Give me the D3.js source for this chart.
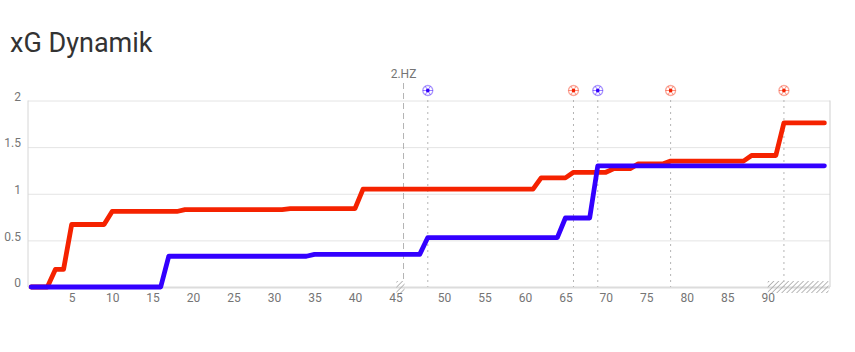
<!DOCTYPE html>
<html>
<head>
<meta charset="utf-8">
<script src="https://cdn.jsdelivr.net/npm/d3@7"></script>
<style>
  body { margin: 0; background: #fff; font-family: Roboto, sans-serif; }
  svg { display: block; }
</style>
</head>
<body>
<div id="grafico"></div>
<script>
// Minutes on the x axis, with the half-time slot and the added time
const minutos = [
  '0','1','2','3','4','5','6','7','8','9','10','11','12','13','14','15','16','17','18','19','20',
  '21','22','23','24','25','26','27','28','29','30','31','32','33','34','35','36','37','38','39','40',
  '41','42','43','44','45','HZ','46','47','48','49','50','51','52','53','54','55','56','57','58','59','60',
  '61','62','63','64','65','66','67','68','69','70','71','72','73','74','75','76','77','78','79','80',
  '81','82','83','84','85','86','87','88','89','90','90+1','90+2','90+3','90+4','90+5','90+6','90+7'
];
const ticksX = ['5','10','15','20','25','30','35','40','45','50','55','60','65','70','75','80','85','90'];
const ticksY = [0, 0.5, 1, 1.5, 2];

// xG per slot, same order as minutos
const xgVermelho = [
  0,0,0,0.19,0.19,0.67,0.67,0.67,0.67,0.67,0.81,0.81,0.81,0.81,0.81,0.81,0.81,0.81,0.81,0.83,0.83,
  0.83,0.83,0.83,0.83,0.83,0.83,0.83,0.83,0.83,0.83,0.83,0.84,0.84,0.84,0.84,0.84,0.84,0.84,0.84,0.84,
  1.05,1.05,1.05,1.05,1.05,1.05,1.05,1.05,1.05,1.05,1.05,1.05,1.05,1.05,1.05,1.05,1.05,1.05,1.05,1.05,1.05,
  1.05,1.17,1.17,1.17,1.17,1.23,1.23,1.23,1.23,1.23,1.27,1.27,1.27,1.32,1.32,1.32,1.32,1.35,1.35,1.35,
  1.35,1.35,1.35,1.35,1.35,1.35,1.35,1.41,1.41,1.41,1.41,1.76,1.76,1.76,1.76,1.76,1.76
];
const xgAzul = [
  0,0,0,0,0,0,0,0,0,0,0,0,0,0,0,0,0,0.33,0.33,0.33,0.33,
  0.33,0.33,0.33,0.33,0.33,0.33,0.33,0.33,0.33,0.33,0.33,0.33,0.33,0.33,0.35,0.35,0.35,0.35,0.35,0.35,
  0.35,0.35,0.35,0.35,0.35,0.35,0.35,0.35,0.53,0.53,0.53,0.53,0.53,0.53,0.53,0.53,0.53,0.53,0.53,0.53,0.53,
  0.53,0.53,0.53,0.53,0.74,0.74,0.74,0.74,1.30,1.30,1.30,1.30,1.30,1.30,1.30,1.30,1.30,1.30,1.30,1.30,
  1.30,1.30,1.30,1.30,1.30,1.30,1.30,1.30,1.30,1.30,1.30,1.30,1.30,1.30,1.30,1.30,1.30
];

const golosMinuto = ['48','66','69','78','90+2'];
const golosEquipa = ['azul','vermelho','azul','vermelho','vermelho'];

const cores = { vermelho: '#f52200', azul: '#3300ff' };

const largura = 855;
const altura = 352;

const svg = d3.select('#grafico').append('svg')
  .attr('width', largura)
  .attr('height', altura);

// Escalas
const x = d3.scalePoint().domain(minutos).range([31.2, 824.4]);
const y = d3.scaleLinear().domain([0, 2]).range([287, 100.5]);

// Hatch pattern for the stoppage-time strips
const defs = svg.append('defs');
const padrao = defs.append('pattern')
  .attr('id', 'riscas')
  .attr('width', 3.5)
  .attr('height', 3.5)
  .attr('patternUnits', 'userSpaceOnUse')
  .attr('patternTransform', 'rotate(45)');
padrao.append('line')
  .attr('x1', 0).attr('y1', 0).attr('x2', 0).attr('y2', 3.5)
  .attr('stroke', '#b0b0b0')
  .attr('stroke-width', 1.8);

svg.append('text')
  .attr('x', 10)
  .attr('y', 52)
  .attr('fill', '#333')
  .style('font-size', '27px')
  .text('xG Dynamik');

// Grid lines and y labels
const eixoY = svg.append('g')
  .attr('transform', 'translate(28,0)')
  .call(d3.axisLeft(y).tickValues(ticksY).tickSize(-802).tickPadding(7).tickFormat(d3.format('')));
eixoY.select('.domain').remove();
eixoY.selectAll('line').attr('stroke', '#e4e4e4').attr('stroke-width', 1);
eixoY.selectAll('.tick').filter((d) => d === 0).select('line').attr('stroke', '#dcdcdc').attr('stroke-width', 2);
eixoY.selectAll('text')
  .attr('dy', '-0.02em')
  .attr('fill', '#757575')
  .style('font-size', '12px')
  .style('font-family', 'Roboto, sans-serif');

// Left and right borders
svg.append('line')
  .attr('x1', 28).attr('x2', 28)
  .attr('y1', y(2)).attr('y2', y(0))
  .attr('stroke', '#d6d6d6');
svg.append('line')
  .attr('x1', 830).attr('x2', 830)
  .attr('y1', y(2)).attr('y2', y(0))
  .attr('stroke', '#cfcfcf');

// X axis labels
const eixoX = svg.append('g')
  .attr('transform', `translate(0,${y(0)})`)
  .call(d3.axisBottom(x).tickValues(ticksX).tickSize(0).tickPadding(6));
eixoX.select('.domain').remove();
eixoX.selectAll('text')
  .attr('fill', '#757575')
  .style('font-size', '12px')
  .style('font-family', 'Roboto, sans-serif');

// Stoppage-time strips
svg.append('rect')
  .attr('x', x('45') + 1)
  .attr('y', 281)
  .attr('width', x('HZ') - x('45'))
  .attr('height', 12)
  .attr('fill', 'url(#riscas)');
svg.append('rect')
  .attr('x', x('90'))
  .attr('y', 281)
  .attr('width', 828.5 - x('90'))
  .attr('height', 12)
  .attr('fill', 'url(#riscas)');

// Half-time marker
svg.append('line')
  .attr('x1', x('HZ')).attr('x2', x('HZ'))
  .attr('y1', 83).attr('y2', 281)
  .attr('stroke', '#b4b4b4')
  .attr('stroke-dasharray', '6,4');
svg.append('text')
  .attr('x', x('HZ'))
  .attr('y', 78)
  .attr('text-anchor', 'middle')
  .attr('fill', '#757575')
  .style('font-size', '12px')
  .text('2.HZ');

// Goal markers
golosMinuto.forEach((m, i) => {
  const cor = cores[golosEquipa[i]];
  svg.append('line')
    .attr('x1', x(m)).attr('x2', x(m))
    .attr('y1', 100).attr('y2', 287)
    .attr('stroke', '#b4b4b4')
    .attr('stroke-dasharray', '2,4');

  const bola = svg.append('g').attr('transform', `translate(${x(m)},90.5)`);
  bola.append('circle')
    .attr('r', 5)
    .attr('fill', '#fff')
    .attr('stroke', cor)
    .attr('stroke-opacity', 0.4)
    .attr('stroke-width', 1.3);
  bola.append('circle')
    .attr('r', 1.9)
    .attr('fill', cor);
  // short panel seams
  [[-5, 0], [5, 0], [-2.5, -4.2], [2.5, -4.2], [-2.5, 4.2], [2.5, 4.2]].forEach(([px, py]) => {
    bola.append('line')
      .attr('x1', 0.4 * px).attr('y1', 0.4 * py)
      .attr('x2', px).attr('y2', py)
      .attr('stroke', cor)
      .attr('stroke-opacity', 0.5)
      .attr('stroke-width', 1);
  });
});

// Series
const linha = d3.line()
  .x((d) => x(d.minuto))
  .y((d) => y(d.xg));

[[xgVermelho, cores.vermelho], [xgAzul, cores.azul]].forEach(([valores, cor]) => {
  svg.append('path')
    .datum(valores.map((v, i) => ({ minuto: minutos[i], xg: v })))
    .attr('d', linha)
    .attr('fill', 'none')
    .attr('stroke', cor)
    .attr('stroke-width', 4.8)
    .attr('stroke-linecap', 'round')
    .attr('stroke-linejoin', 'round');
});
</script>
</body>
</html>
